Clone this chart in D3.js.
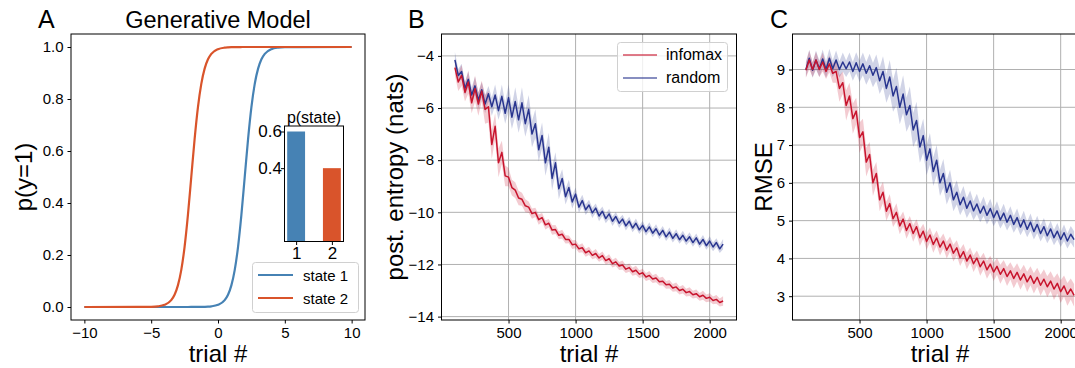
<!DOCTYPE html>
<html lang="en">
<head>
<meta charset="utf-8">
<title>Generative model, posterior entropy and RMSE</title>
<script src="https://d3js.org/d3.v7.min.js"></script>
<style>
  body { margin: 0; background: #fff; }
  text { font-family: "Liberation Sans", Arial, Helvetica, sans-serif; fill: #000; }
</style>
</head>
<body>
<script>
// ---- panel A: generative model ----
var sigX = [-10, -6, -5, -4.5, -4, -3.5, -3.25, -3, -2.75, -2.5,
            -2.25, -2, -1.75, -1.5, -1.25, -1, -0.75, -0.5, 0, 0.5,
            0.75, 1, 1.25, 1.5, 1.75, 2, 2.25, 2.5, 2.75, 3,
            3.25, 3.5, 4, 4.5, 5, 6, 10];
var pState1 = [0, 0, 0, 0, 0, 0, 0, 0, 0, 0,
               0, 0.0001, 0.0001, 0.0002, 0.0004, 0.0008, 0.0014, 0.0025, 0.0082, 0.0266,
               0.0474, 0.0832, 0.1419, 0.2315, 0.3543, 0.5, 0.6457, 0.7685, 0.8581, 0.9168,
               0.9526, 0.9734, 0.9918, 0.9975, 0.9993, 0.9999, 1];
var pState2 = [0, 0.0001, 0.0008, 0.0025, 0.0082, 0.0266, 0.0474, 0.0832, 0.1419, 0.2315,
               0.3543, 0.5, 0.6457, 0.7685, 0.8581, 0.9168, 0.9526, 0.9734, 0.9918, 0.9975,
               0.9986, 0.9993, 0.9996, 0.9998, 0.9999, 1, 1, 1, 1, 1,
               1, 1, 1, 1, 1, 1, 1];
var stateNames = ["state 1", "state 2"];
var stateCats = ["1", "2"];
var statePrior = [0.6, 0.4];

// ---- panels B, C: infomax vs random ----
var methods = ["infomax", "random"];
var trials = d3.range(100, 2101, 25);
var entInfomax = [-4.45, -5.0, -4.75, -5.4, -5.0, -5.8, -5.25, -5.85, -5.35, -6.05,
  -5.95, -7.4, -6.7, -8.1, -7.7, -8.6, -8.65, -9.05, -9.15, -9.45,
  -9.5, -9.75, -9.8, -10.05, -10.0, -10.28, -10.2, -10.48, -10.42, -10.68,
  -10.66, -10.88, -10.84, -11.04, -11.04, -11.24, -11.22, -11.4, -11.36, -11.55,
  -11.48, -11.65, -11.58, -11.75, -11.66, -11.85, -11.78, -11.97, -11.9, -12.06,
  -12.02, -12.18, -12.12, -12.28, -12.22, -12.37, -12.32, -12.48, -12.42, -12.56,
  -12.52, -12.66, -12.64, -12.78, -12.76, -12.9, -12.86, -13.0, -12.95, -13.08,
  -13.04, -13.16, -13.12, -13.24, -13.18, -13.3, -13.26, -13.38, -13.34, -13.46,
  -13.4];
var entInfomaxSd = [0.3, 0.35, 0.4, 0.35, 0.45, 0.4, 0.5, 0.45, 0.4, 0.55,
  0.6, 0.55, 0.5, 0.55, 0.45, 0.4, 0.35, 0.3, 0.3, 0.28,
  0.25, 0.25, 0.22, 0.2, 0.18, 0.2, 0.17, 0.18, 0.16, 0.18,
  0.17, 0.15, 0.17, 0.16, 0.15, 0.17, 0.16, 0.15, 0.17, 0.15,
  0.16, 0.15, 0.17, 0.15, 0.16, 0.15, 0.17, 0.15, 0.16, 0.15,
  0.17, 0.15, 0.16, 0.15, 0.17, 0.15, 0.16, 0.15, 0.17, 0.15,
  0.16, 0.15, 0.17, 0.15, 0.16, 0.15, 0.17, 0.15, 0.16, 0.15,
  0.17, 0.15, 0.16, 0.15, 0.17, 0.15, 0.16, 0.15, 0.17, 0.15,
  0.18];
var entRandom = [-4.15, -4.75, -4.6, -5.25, -4.9, -5.5, -5.15, -5.7, -5.3, -5.85,
  -5.45, -5.95, -5.5, -6.1, -5.55, -6.2, -5.6, -6.35, -5.75, -6.45,
  -5.8, -6.6, -6.05, -7.0, -6.6, -7.6, -7.05, -8.1, -7.5, -8.7,
  -8.1, -9.1, -8.7, -9.4, -9.05, -9.6, -9.3, -9.8, -9.55, -9.9,
  -9.72, -10.02, -9.84, -10.14, -9.96, -10.24, -10.06, -10.34, -10.16, -10.42,
  -10.26, -10.52, -10.34, -10.6, -10.42, -10.67, -10.5, -10.74, -10.56, -10.8,
  -10.63, -10.87, -10.69, -10.94, -10.76, -11.0, -10.82, -11.05, -10.88, -11.1,
  -10.94, -11.16, -10.98, -11.22, -11.04, -11.28, -11.1, -11.33, -11.16, -11.4,
  -11.22];
var entRandomSd = [0.3, 0.25, 0.3, 0.25, 0.3, 0.3, 0.35, 0.3, 0.3, 0.35,
  0.3, 0.35, 0.4, 0.35, 0.45, 0.4, 0.5, 0.45, 0.55, 0.5,
  0.6, 0.5, 0.55, 0.5, 0.55, 0.45, 0.5, 0.5, 0.55, 0.45,
  0.4, 0.4, 0.35, 0.3, 0.3, 0.25, 0.25, 0.22, 0.22, 0.2,
  0.2, 0.2, 0.18, 0.2, 0.18, 0.18, 0.2, 0.18, 0.17, 0.18,
  0.17, 0.18, 0.17, 0.16, 0.18, 0.16, 0.17, 0.16, 0.18, 0.16,
  0.17, 0.16, 0.17, 0.16, 0.18, 0.16, 0.17, 0.16, 0.17, 0.16,
  0.18, 0.16, 0.17, 0.16, 0.17, 0.16, 0.18, 0.16, 0.17, 0.16,
  0.2];
var rmseInfomax = [8.98, 9.25, 9.0, 9.25, 9.0, 9.2, 8.95, 9.15, 8.9, 8.95,
  8.5, 8.65, 8.05, 8.3, 7.7, 7.9, 7.2, 7.35, 6.55, 6.75,
  6.0, 6.25, 5.55, 5.75, 5.25, 5.45, 5.05, 5.22, 4.86, 5.04,
  4.74, 4.92, 4.66, 4.84, 4.55, 4.72, 4.45, 4.62, 4.37, 4.54,
  4.3, 4.46, 4.22, 4.38, 4.14, 4.28, 4.02, 4.18, 3.93, 4.09,
  3.86, 4.01, 3.78, 3.93, 3.7, 3.85, 3.64, 3.79, 3.58, 3.73,
  3.52, 3.67, 3.47, 3.63, 3.43, 3.59, 3.38, 3.54, 3.34, 3.5,
  3.29, 3.45, 3.25, 3.4, 3.19, 3.34, 3.12, 3.27, 3.05, 3.19,
  3.02];
var rmseInfomaxSd = [0.2, 0.25, 0.2, 0.22, 0.2, 0.25, 0.2, 0.22, 0.25, 0.3,
  0.35, 0.3, 0.4, 0.35, 0.4, 0.35, 0.4, 0.35, 0.38, 0.33,
  0.35, 0.3, 0.3, 0.28, 0.25, 0.25, 0.22, 0.24, 0.22, 0.2,
  0.22, 0.2, 0.22, 0.2, 0.22, 0.2, 0.22, 0.2, 0.22, 0.2,
  0.22, 0.2, 0.22, 0.2, 0.22, 0.2, 0.22, 0.2, 0.22, 0.2,
  0.22, 0.2, 0.24, 0.22, 0.24, 0.22, 0.24, 0.22, 0.25, 0.23,
  0.25, 0.23, 0.26, 0.24, 0.26, 0.24, 0.27, 0.25, 0.27, 0.25,
  0.28, 0.26, 0.28, 0.26, 0.29, 0.27, 0.3, 0.28, 0.3, 0.28,
  0.3];
var rmseRandom = [9.0, 9.3, 8.98, 9.25, 9.02, 9.28, 9.0, 9.3, 9.02, 9.25,
  9.0, 9.2, 9.02, 9.2, 8.95, 9.18, 8.95, 9.15, 8.9, 9.1,
  8.85, 9.05, 8.7, 8.95, 8.5, 8.8, 8.3, 8.55, 8.0, 8.35,
  7.8, 8.05, 7.4, 7.65, 6.95, 7.25, 6.6, 6.9, 6.3, 6.6,
  6.0, 6.25, 5.75, 6.0, 5.55, 5.75, 5.42, 5.62, 5.33, 5.52,
  5.26, 5.44, 5.2, 5.38, 5.14, 5.32, 5.08, 5.26, 5.02, 5.2,
  4.96, 5.14, 4.9, 5.08, 4.83, 5.02, 4.77, 4.96, 4.71, 4.9,
  4.66, 4.84, 4.6, 4.78, 4.55, 4.72, 4.5, 4.68, 4.46, 4.64,
  4.5];
var rmseRandomSd = [0.2, 0.22, 0.2, 0.25, 0.22, 0.25, 0.22, 0.25, 0.22, 0.25,
  0.22, 0.25, 0.22, 0.25, 0.25, 0.28, 0.28, 0.3, 0.3, 0.32,
  0.32, 0.35, 0.35, 0.4, 0.38, 0.45, 0.42, 0.5, 0.45, 0.5,
  0.45, 0.5, 0.45, 0.5, 0.42, 0.45, 0.4, 0.42, 0.38, 0.4,
  0.35, 0.38, 0.32, 0.35, 0.3, 0.32, 0.28, 0.3, 0.26, 0.28,
  0.25, 0.27, 0.24, 0.26, 0.24, 0.26, 0.23, 0.25, 0.23, 0.25,
  0.22, 0.24, 0.22, 0.24, 0.22, 0.24, 0.21, 0.23, 0.21, 0.23,
  0.21, 0.23, 0.2, 0.22, 0.2, 0.22, 0.2, 0.22, 0.2, 0.22,
  0.22];

// tick values
var aTicksX = [-10, -5, 0, 5, 10];
var aTicksY = [0, 0.2, 0.4, 0.6, 0.8, 1.0];
var insetTicksY = [0.4, 0.6];
var trialTicks = [500, 1000, 1500, 2000];
var bTicksY = [-14, -12, -10, -8, -6, -4];
var cTicksY = [3, 4, 5, 6, 7, 8, 9];

// colours
var stateColor = ["#4682b4", "#d9542b"];
var methodColor = ["#c8142d", "#29358f"];

var W = 1075, H = 368;
var svg = d3.select("body").append("svg")
    .attr("width", W)
    .attr("height", H);

// axes: ticks, labels and (optionally) grid lines
function drawAxes(x, y, xt, yt, xfmt, yfmt, grid) {
    var g = svg.append("g");
    var x0 = x.range()[0], x1 = x.range()[1];
    var y0 = y.range()[0], y1 = y.range()[1];

    if (grid) {
        g.selectAll(".gx").data(xt).enter().append("line")
            .attr("x1", function(d) { return x(d); })
            .attr("x2", function(d) { return x(d); })
            .attr("y1", y0).attr("y2", y1)
            .attr("stroke", "#b0b0b0").attr("stroke-width", 1);
        g.selectAll(".gy").data(yt).enter().append("line")
            .attr("y1", function(d) { return y(d); })
            .attr("y2", function(d) { return y(d); })
            .attr("x1", x0).attr("x2", x1)
            .attr("stroke", "#b0b0b0").attr("stroke-width", 1);
    }

    var ax = g.append("g").attr("transform", "translate(0," + y0 + ")")
        .call(d3.axisBottom(x).tickValues(xt).tickFormat(xfmt).tickSize(3.5).tickSizeOuter(0).tickPadding(4));
    var ay = g.append("g").attr("transform", "translate(" + x0 + ",0)")
        .call(d3.axisLeft(y).tickValues(yt).tickFormat(yfmt).tickSize(3.5).tickSizeOuter(0).tickPadding(4));
    [ax, ay].forEach(function(a) {
        a.select(".domain").remove();
        a.selectAll("text").attr("font-size", 15)
            .attr("font-family", "'Liberation Sans', Arial, sans-serif");
        a.selectAll("line").attr("stroke", "#000").attr("stroke-width", 1);
    });
    return g;
}

function frame(x, y) {
    var x0 = x.range()[0], x1 = x.range()[1];
    var y0 = y.range()[0], y1 = y.range()[1];
    svg.append("rect")
        .attr("x", x0).attr("y", y1)
        .attr("width", x1 - x0).attr("height", y0 - y1)
        .attr("fill", "none").attr("stroke", "#000").attr("stroke-width", 1);
}

function label(txt, px, py, size, rotate, anchor) {
    var t = svg.append("text")
        .attr("font-size", size)
        .attr("text-anchor", anchor || "middle")
        .text(txt);
    if (rotate) t.attr("transform", "translate(" + px + "," + py + ") rotate(-90)");
    else t.attr("x", px).attr("y", py);
    return t;
}

// ================= Panel A =================
var xA = d3.scaleLinear().domain([-11, 11]).range([71, 365]);
var yA = d3.scaleLinear().domain([-0.05, 1.05]).range([320, 34]);
drawAxes(xA, yA, aTicksX, aTicksY, d3.format("d"), d3.format(".1f"), false);

var sigLine = d3.line()
    .x(function(d) { return xA(d[0]); })
    .y(function(d) { return yA(d[1]); })
    .curve(d3.curveMonotoneX);

[pState1, pState2].forEach(function(p, k) {
    svg.append("path")
        .datum(sigX.map(function(v, i) { return [v, p[i]]; }))
        .attr("d", sigLine)
        .attr("fill", "none")
        .attr("stroke", stateColor[k])
        .attr("stroke-width", 2.2);
});
frame(xA, yA);

// inset bar chart p(state)
var xI = d3.scaleLinear().domain([0.675, 2.325]).range([284.5, 343.5]);
var yI = d3.scaleLinear().domain([0, 0.63]).range([241.5, 126]);
svg.append("rect").attr("x", 284.5).attr("y", 126).attr("width", 59).attr("height", 115.5).attr("fill", "#fff");
svg.selectAll(".bar").data(statePrior).enter().append("rect")
    .attr("x", function(d, i) { return xI(i + 1 - 0.25); })
    .attr("width", xI(1.5) - xI(1))
    .attr("y", function(d) { return yI(d); })
    .attr("height", function(d) { return yI(0) - yI(d); })
    .attr("fill", function(d, i) { return stateColor[i]; });
var gI = svg.append("g");
var iax = gI.append("g").attr("transform", "translate(0,241.5)")
    .call(d3.axisBottom(xI).tickValues([1, 2]).tickFormat(function(d) { return stateCats[d - 1]; })
        .tickSize(3.5).tickSizeOuter(0).tickPadding(2));
var iay = gI.append("g").attr("transform", "translate(284.5,0)")
    .call(d3.axisLeft(yI).tickValues(insetTicksY).tickFormat(d3.format(".1f"))
        .tickSize(3.5).tickSizeOuter(0).tickPadding(-1));
[iax, iay].forEach(function(a) {
    a.select(".domain").remove();
    a.selectAll("text").attr("font-size", 17).attr("font-family", "'Liberation Sans', Arial, sans-serif");
    a.selectAll("line").attr("stroke", "#000");
});
frame(xI, yI);
label("p(state)", 314, 123, 16);

// legend A
var legA = svg.append("g");
legA.append("rect").attr("x", 252.5).attr("y", 262.5).attr("width", 106).attr("height", 50)
    .attr("rx", 3).attr("fill", "#fff").attr("fill-opacity", 0.8)
    .attr("stroke", "#d0d0d0").attr("stroke-width", 1);
stateNames.forEach(function(n, i) {
    var yy = 275 + i * 23;
    legA.append("line").attr("x1", 258).attr("x2", 293).attr("y1", yy).attr("y2", yy)
        .attr("stroke", stateColor[i]).attr("stroke-width", 2.2);
    legA.append("text").attr("x", 303).attr("y", yy + 6).attr("font-size", 15).text(n);
});

label("A", 38, 28, 25, false, "start");
label("Generative Model", 218, 28, 23.5);
label("trial #", 218, 362, 24);
label("p(y=1)", 32, 177, 24, true);

// ================= Panels B, C =================
function trialPanel(x, y, yt, series, sds) {
    drawAxes(x, y, trialTicks, yt, d3.format("d"), d3.format("d"), true);
    var area = d3.area()
        .x(function(d) { return x(d.t); })
        .y0(function(d) { return y(d.v - d.s); })
        .y1(function(d) { return y(d.v + d.s); });
    var line = d3.line()
        .x(function(d) { return x(d.t); })
        .y(function(d) { return y(d.v); });
    var pts = series.map(function(s, k) {
        return trials.map(function(t, i) { return { t: t, v: s[i], s: sds[k][i] }; });
    });
    // random drawn first, infomax on top
    [1, 0].forEach(function(k) {
        svg.append("path").datum(pts[k]).attr("d", area)
            .attr("fill", methodColor[k]).attr("fill-opacity", 0.22).attr("stroke", "none");
    });
    [1, 0].forEach(function(k) {
        svg.append("path").datum(pts[k]).attr("d", line)
            .attr("fill", "none").attr("stroke", methodColor[k])
            .attr("stroke-width", 1.5).attr("stroke-linejoin", "round");
    });
    frame(x, y);
}

var xB = d3.scaleLinear().domain([0, 2200]).range([441.5, 736.5]);
var yB = d3.scaleLinear().domain([-14.13, -3.16]).range([320, 34]);
trialPanel(xB, yB, bTicksY, [entInfomax, entRandom], [entInfomaxSd, entRandomSd]);

// legend B
var legB = svg.append("g");
legB.append("rect").attr("x", 617.5).attr("y", 42.5).attr("width", 110).attr("height", 49)
    .attr("rx", 3).attr("fill", "#fff").attr("fill-opacity", 0.8)
    .attr("stroke", "#d0d0d0").attr("stroke-width", 1);
methods.forEach(function(m, i) {
    var yy = 55 + i * 23;
    legB.append("line").attr("x1", 623).attr("x2", 657).attr("y1", yy).attr("y2", yy)
        .attr("stroke", methodColor[i]).attr("stroke-opacity", 0.75).attr("stroke-width", 1.3);
    legB.append("text").attr("x", 666).attr("y", yy + 5).attr("font-size", 16).text(m);
});

label("B", 408, 28, 25, false, "start");
label("trial #", 589, 362, 24);
label("post. entropy (nats)", 403, 177, 24, true);

var xC = d3.scaleLinear().domain([0, 2200]).range([792.5, 1087.5]);
var yC = d3.scaleLinear().domain([2.37, 9.94]).range([320, 34]);
trialPanel(xC, yC, cTicksY, [rmseInfomax, rmseRandom], [rmseInfomaxSd, rmseRandomSd]);

label("C", 770, 28, 25, false, "start");
label("trial #", 940, 362, 24);
label("RMSE", 772, 177, 24, true);
</script>
</body>
</html>
